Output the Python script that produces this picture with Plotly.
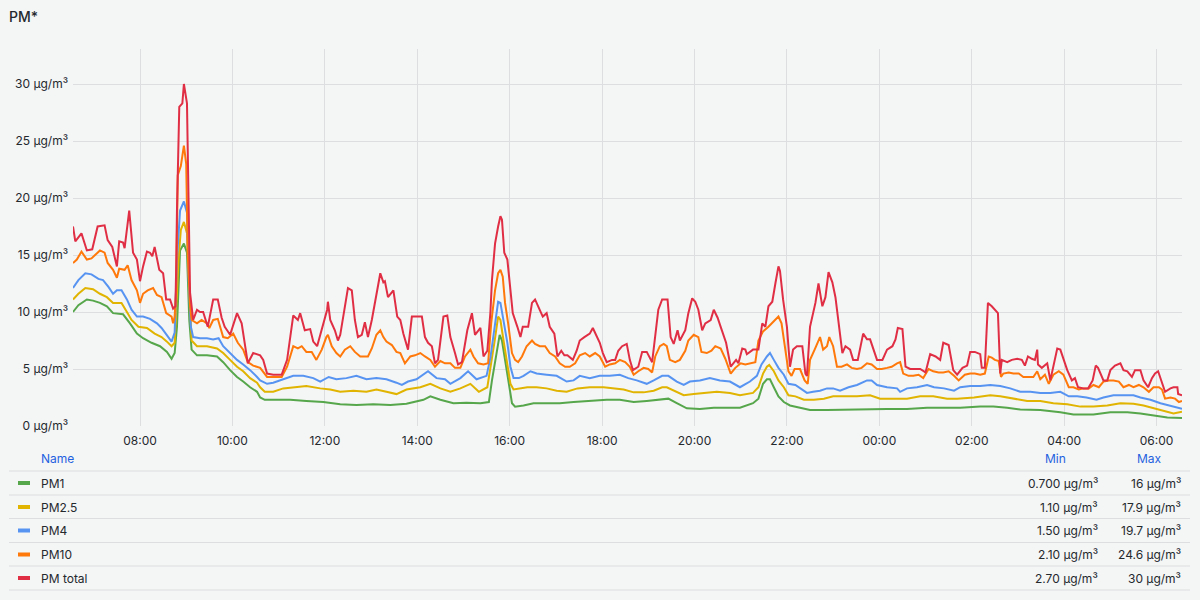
import plotly.graph_objects as go
import pandas as pd

# ---------------- data (times = minutes after 00:00 on the first day) ----------------
series_names = ["PM1", "PM2.5", "PM4", "PM10", "PM total"]
series_colors = ["#56A64B", "#E0B400", "#5794F2", "#FF780A", "#E02F44"]
legend_min = ["0.700 µg/m³", "1.10 µg/m³", "1.50 µg/m³", "2.10 µg/m³", "2.70 µg/m³"]
legend_max = ["16 µg/m³", "17.9 µg/m³", "19.7 µg/m³", "24.6 µg/m³", "30 µg/m³"]

pm_total_t = [
    393, 396, 404, 411, 418, 425, 434, 438, 444, 450,
    453, 458, 460, 466, 471, 476, 480, 484, 489, 493,
    496, 499, 505, 510, 514, 519, 523, 526, 527, 528,
    531, 535, 537, 541, 543, 545, 549, 554, 558, 562,
    568, 575, 581, 586, 590, 597, 606, 612, 620, 627,
    636, 640, 645, 653, 664, 671, 679, 685, 688, 694,
    701, 705, 710, 716, 723, 724, 727, 733, 737, 740,
    746, 750, 755, 759, 763, 768, 772, 776, 781, 788,
    792, 796, 798, 802, 809, 814, 818, 822, 828, 833,
    840, 846, 850, 854, 859, 863, 867, 874, 879, 883,
    889, 893, 898, 905, 911, 915, 922, 926, 931, 935,
    937, 941, 945, 948, 950, 953, 957, 961, 964, 970,
    974, 977, 984, 989, 993, 997, 1003, 1008, 1012, 1018,
    1022, 1027, 1031, 1035, 1042, 1047, 1051, 1057, 1064, 1068,
    1073, 1077, 1081, 1086, 1093, 1097, 1101, 1106, 1112, 1116,
    1120, 1127, 1132, 1138, 1145, 1149, 1153, 1158, 1165, 1169,
    1173, 1178, 1181, 1188, 1192, 1197, 1201, 1205, 1210, 1214,
    1221, 1225, 1230, 1234, 1241, 1247, 1254, 1257, 1262, 1266,
    1268, 1276, 1283, 1288, 1292, 1296, 1301, 1305, 1309, 1311,
    1315, 1320, 1324, 1328, 1333, 1340, 1344, 1346, 1350, 1357,
    1361, 1366, 1370, 1374, 1379, 1383, 1387, 1392, 1396, 1402,
    1406, 1412, 1419, 1424, 1428, 1432, 1437, 1444, 1450, 1457,
    1461, 1464, 1470, 1474, 1480, 1487, 1493, 1500, 1506, 1513,
    1519, 1523, 1530, 1536, 1541, 1548, 1554, 1558, 1564, 1571,
    1573, 1577, 1581, 1586, 1590, 1594, 1597, 1599, 1606, 1612,
    1619, 1625, 1629, 1633, 1638, 1642, 1645, 1646, 1651, 1658,
    1662, 1666, 1671, 1675, 1679, 1684, 1690, 1694, 1698, 1705,
    1711, 1717, 1721, 1724, 1731, 1736, 1740, 1746, 1753, 1757,
    1762, 1768, 1772, 1779, 1783, 1789, 1794, 1798, 1802, 1807,
    1811, 1818, 1822, 1827, 1828, 1833,
]
pm_total_v = [
    17.5, 16.2, 16.9, 15.4, 15.5, 17.5, 17.6, 16.3, 15.7, 14.0,
    16.2, 16.1, 15.6, 18.9, 15.2, 14.6, 12.7, 14.0, 15.3, 15.2,
    14.9, 15.7, 13.7, 13.4, 11.1, 11.1, 10.3, 10.5, 14.0, 18.9,
    28.0, 28.3, 30.0, 28.3, 20.0, 11.7, 9.3, 10.2, 10.0, 10.0,
    8.7, 11.1, 11.1, 9.5, 8.7, 8.0, 9.9, 9.0, 5.5, 6.4,
    6.2, 5.8, 4.6, 4.5, 4.5, 5.8, 9.7, 9.3, 9.9, 8.4,
    8.5, 7.4, 7.0, 8.5, 10.2, 10.9, 9.3, 8.4, 7.5, 8.0,
    10.5, 12.1, 11.9, 9.3, 7.8, 8.0, 9.1, 7.8, 9.3, 11.7,
    13.4, 12.6, 12.7, 11.3, 11.9, 9.6, 9.3, 8.1, 6.7, 9.6,
    9.6, 9.6, 7.8, 7.3, 7.0, 5.5, 5.8, 9.6, 9.7, 7.8,
    6.4, 5.4, 5.6, 8.4, 9.9, 8.0, 8.6, 6.1, 6.6, 10.0,
    12.8, 16.0, 17.5, 18.4, 18.1, 15.2, 14.6, 12.2, 9.9, 8.7,
    7.8, 8.7, 8.7, 10.8, 11.1, 10.5, 9.6, 9.9, 8.7, 8.1,
    6.1, 6.6, 6.2, 6.2, 5.8, 6.6, 7.5, 7.8, 8.1, 8.6,
    7.8, 7.3, 6.4, 5.6, 5.8, 5.8, 6.6, 7.0, 7.2, 5.8,
    4.9, 5.2, 6.5, 6.5, 5.6, 7.8, 10.2, 11.1, 11.1, 7.8,
    7.2, 8.4, 7.5, 8.4, 9.9, 11.2, 10.9, 10.2, 8.4, 9.0,
    9.3, 10.2, 9.5, 8.7, 7.3, 5.2, 5.8, 5.5, 6.8, 6.7,
    6.3, 6.7, 6.7, 9.0, 8.7, 10.5, 10.9, 12.5, 14.0, 13.6,
    11.1, 8.7, 5.2, 6.7, 7.0, 7.0, 4.6, 4.4, 8.7, 10.8,
    12.5, 10.5, 11.3, 13.5, 12.6, 11.3, 9.0, 6.4, 7.0, 6.7,
    5.8, 5.8, 8.1, 7.6, 7.6, 6.7, 5.8, 5.8, 6.7, 7.0,
    7.6, 8.6, 8.5, 5.2, 5.0, 5.0, 5.0, 4.7, 6.3, 6.1,
    5.8, 7.3, 7.1, 4.9, 4.5, 5.1, 5.3, 6.5, 6.5, 6.3,
    5.1, 5.1, 10.8, 10.5, 10.2, 9.9, 4.6, 5.8, 5.6, 5.8,
    5.9, 5.8, 5.3, 6.1, 5.9, 5.8, 6.7, 5.4, 5.1, 5.5,
    4.0, 5.3, 6.8, 6.7, 5.8, 4.9, 4.0, 4.2, 3.4, 3.3,
    3.3, 4.0, 5.3, 5.1, 4.0, 4.0, 4.9, 5.3, 5.5, 4.9,
    4.8, 4.3, 4.9, 4.9, 4.0, 3.4, 4.2, 4.6, 4.8, 3.9,
    3.0, 3.3, 3.4, 3.4, 2.8, 2.7,
]

pm10_t = [
    393, 398, 404, 411, 417, 424, 428, 434, 438, 445,
    450, 453, 460, 464, 469, 476, 480, 484, 490, 497,
    502, 508, 514, 521, 523, 525, 527, 529, 533, 537,
    540, 542, 545, 547, 554, 560, 567, 570, 575, 581,
    588, 594, 601, 607, 614, 620, 627, 636, 645, 653,
    664, 671, 679, 685, 690, 696, 703, 709, 716, 722,
    724, 729, 735, 740, 746, 753, 759, 766, 776, 781,
    787, 792, 796, 800, 807, 813, 818, 824, 831, 837,
    844, 850, 857, 863, 870, 876, 883, 889, 896, 902,
    909, 913, 919, 926, 932, 936, 941, 945, 948, 951,
    954, 958, 963, 967, 971, 976, 982, 989, 993, 999,
    1006, 1012, 1019, 1025, 1032, 1038, 1045, 1051, 1058, 1064,
    1071, 1077, 1084, 1090, 1097, 1103, 1110, 1116, 1121, 1127,
    1134, 1140, 1145, 1149, 1155, 1160, 1164, 1168, 1175, 1181,
    1188, 1192, 1199, 1205, 1209, 1216, 1222, 1227, 1234, 1240,
    1247, 1253, 1260, 1266, 1272, 1279, 1283, 1289, 1296, 1302,
    1309, 1313, 1317, 1322, 1326, 1330, 1337, 1343, 1347, 1350,
    1356, 1363, 1367, 1372, 1375, 1380, 1385, 1391, 1398, 1404,
    1411, 1417, 1424, 1430, 1437, 1443, 1450, 1456, 1463, 1467,
    1471, 1478, 1484, 1491, 1497, 1504, 1510, 1517, 1523, 1530,
    1537, 1543, 1551, 1558, 1564, 1571, 1577, 1582, 1586, 1590,
    1595, 1598, 1601, 1608, 1614, 1621, 1627, 1634, 1640, 1645,
    1649, 1655, 1660, 1666, 1673, 1679, 1686, 1692, 1699, 1705,
    1712, 1718, 1725, 1731, 1738, 1744, 1751, 1757, 1764, 1770,
    1777, 1783, 1790, 1796, 1803, 1807, 1811, 1818, 1824, 1829,
    1833,
]
pm10_v = [
    14.3, 14.6, 15.3, 14.6, 14.7, 15.2, 15.4, 15.2, 14.3, 13.7,
    13.0, 13.8, 13.7, 14.1, 12.8, 11.9, 10.8, 11.6, 11.9, 12.1,
    11.5, 11.3, 9.9, 9.6, 9.0, 9.6, 12.0, 22.0, 22.8, 24.6,
    23.0, 15.0, 10.5, 9.3, 9.0, 9.3, 9.0, 8.6, 9.3, 9.4,
    7.8, 7.7, 8.1, 7.3, 6.7, 5.6, 5.3, 5.1, 4.3, 4.3,
    4.3, 5.2, 7.0, 6.8, 7.0, 6.5, 6.5, 5.8, 6.7, 7.8,
    8.0, 7.0, 6.4, 6.1, 6.7, 7.0, 6.5, 6.1, 6.1, 6.8,
    8.0, 8.4, 7.8, 7.4, 7.1, 6.5, 6.4, 5.5, 6.1, 6.2,
    6.4, 6.1, 5.8, 5.2, 5.7, 5.5, 5.5, 5.1, 5.1, 6.1,
    6.7, 6.1, 5.5, 5.4, 5.5, 9.0, 11.9, 13.4, 13.7, 13.1,
    10.8, 9.0, 6.4, 5.8, 5.6, 6.1, 7.0, 7.5, 7.2, 7.0,
    7.0, 6.4, 6.1, 5.5, 5.2, 5.2, 5.5, 6.2, 6.4, 6.1,
    6.4, 6.1, 5.2, 5.4, 5.5, 5.8, 5.6, 5.2, 4.5, 4.8,
    5.1, 5.0, 4.7, 6.1, 7.0, 7.2, 7.0, 5.8, 5.6, 5.8,
    6.6, 7.5, 8.0, 7.8, 6.5, 6.4, 6.6, 7.0, 6.8, 5.9,
    4.6, 5.1, 5.5, 5.4, 5.5, 5.6, 7.5, 8.3, 8.7, 9.1,
    9.6, 9.0, 7.0, 4.8, 4.4, 5.0, 5.0, 4.0, 3.7, 5.8,
    6.7, 7.8, 6.7, 7.0, 7.8, 7.0, 5.2, 5.2, 5.4, 5.1,
    5.0, 5.1, 5.5, 5.4, 5.0, 5.0, 5.1, 5.2, 5.5, 5.6,
    4.6, 4.4, 4.4, 4.5, 4.2, 5.0, 4.8, 4.7, 4.7, 4.8,
    4.4, 4.0, 4.5, 4.6, 4.6, 4.5, 4.6, 6.1, 6.0, 5.8,
    5.7, 4.3, 4.6, 4.7, 4.6, 4.6, 4.3, 4.3, 4.3, 4.8,
    4.1, 4.5, 3.7, 4.5, 4.8, 4.5, 3.4, 3.4, 3.2, 3.3,
    3.3, 3.6, 3.4, 3.9, 4.0, 4.0, 3.9, 3.4, 3.6, 3.4,
    3.6, 3.4, 3.0, 3.4, 3.4, 3.2, 2.4, 2.5, 2.4, 2.1,
    2.2,
]

pm4_t = [
    393, 400, 409, 417, 426, 432, 439, 445, 450, 456,
    463, 469, 476, 484, 493, 502, 508, 515, 521, 525,
    528, 532, 537, 541, 543, 546, 549, 558, 567, 575,
    582, 588, 597, 606, 614, 623, 632, 636, 645, 653,
    666, 679, 692, 705, 714, 725, 735, 748, 761, 774,
    787, 800, 813, 820, 828, 839, 854, 865, 876, 883,
    896, 906, 917, 930, 935, 941, 945, 948, 952, 957,
    961, 965, 972, 978, 987, 995, 1008, 1021, 1034, 1043,
    1051, 1064, 1077, 1090, 1103, 1114, 1125, 1138, 1147, 1158,
    1166, 1177, 1186, 1194, 1207, 1220, 1233, 1246, 1259, 1272,
    1281, 1287, 1294, 1298, 1303, 1309, 1316, 1322, 1331, 1337,
    1346, 1354, 1363, 1372, 1380, 1389, 1400, 1411, 1424, 1430,
    1437, 1450, 1463, 1467, 1476, 1489, 1502, 1511, 1524, 1537,
    1545, 1558, 1571, 1584, 1597, 1610, 1623, 1636, 1649, 1662,
    1675, 1686, 1697, 1709, 1722, 1731, 1744, 1757, 1770, 1779,
    1792, 1805, 1818, 1827, 1833,
]
pm4_v = [
    12.1, 12.8, 13.4, 13.3, 12.9, 12.8, 12.2, 11.6, 11.9, 11.9,
    11.1, 10.2, 9.6, 9.6, 9.4, 9.0, 8.6, 8.0, 7.4, 8.2,
    14.6, 18.9, 19.7, 18.7, 13.1, 8.7, 7.8, 7.7, 7.7, 7.6,
    7.7, 7.0, 6.4, 5.8, 5.4, 4.9, 4.3, 4.0, 3.7, 3.8,
    4.1, 4.4, 4.4, 4.2, 3.9, 4.3, 4.1, 4.2, 4.4, 4.1,
    4.2, 4.1, 3.8, 3.6, 3.9, 4.1, 4.8, 4.2, 4.1, 3.7,
    4.2, 4.8, 4.1, 4.4, 6.0, 8.8, 10.9, 10.8, 9.3, 7.3,
    5.2, 4.2, 4.2, 4.4, 4.8, 4.6, 4.5, 4.4, 3.9, 4.0,
    4.4, 4.2, 4.4, 4.4, 4.5, 4.2, 4.0, 3.7, 4.0, 4.4,
    4.4, 3.9, 3.6, 3.9, 4.0, 4.2, 4.0, 3.9, 3.4, 3.9,
    4.4, 5.4, 6.1, 6.4, 5.8, 5.1, 4.5, 3.7, 3.6, 3.3,
    2.9, 3.0, 3.1, 3.3, 3.3, 3.1, 3.4, 3.6, 4.0, 4.0,
    3.6, 3.4, 3.3, 3.0, 3.3, 3.4, 3.6, 3.4, 3.3, 3.1,
    3.4, 3.5, 3.5, 3.6, 3.5, 3.3, 3.0, 3.0, 2.9, 2.9,
    3.0, 2.6, 2.6, 2.5, 2.3, 2.5, 2.7, 2.7, 2.7, 2.5,
    2.3, 2.0, 1.75, 1.6, 1.5,
]

pm25_t = [
    393, 400, 409, 419, 428, 437, 445, 456, 463, 469,
    478, 489, 499, 508, 515, 521, 525, 530, 533, 537,
    541, 544, 547, 554, 567, 580, 588, 597, 606, 614,
    623, 632, 636, 642, 653, 666, 679, 696, 714, 727,
    740, 757, 774, 787, 800, 813, 826, 844, 857, 870,
    883, 896, 909, 920, 931, 935, 941, 945, 948, 952,
    957, 961, 965, 974, 983, 995, 1008, 1021, 1034, 1048,
    1064, 1082, 1094, 1108, 1121, 1134, 1147, 1158, 1164, 1173,
    1186, 1199, 1212, 1229, 1246, 1259, 1276, 1283, 1289, 1294,
    1297, 1303, 1309, 1316, 1322, 1331, 1342, 1355, 1368, 1380,
    1398, 1411, 1428, 1441, 1458, 1476, 1493, 1510, 1528, 1541,
    1563, 1584, 1597, 1614, 1632, 1649, 1666, 1684, 1701, 1718,
    1736, 1753, 1770, 1783, 1796, 1809, 1822, 1833,
]
pm25_v = [
    11.1, 11.6, 12.1, 12.0, 11.6, 11.3, 10.8, 10.8, 10.0, 9.3,
    8.7, 8.6, 8.1, 7.8, 7.4, 7.0, 7.3, 14.6, 17.2, 17.9,
    16.9, 11.6, 7.5, 7.0, 7.0, 6.8, 6.4, 5.8, 5.2, 4.8,
    4.2, 3.8, 3.4, 3.0, 3.0, 3.3, 3.4, 3.5, 3.3, 3.2,
    3.0, 3.1, 3.0, 3.2, 3.0, 2.8, 3.2, 3.4, 3.7, 3.3,
    3.0, 3.3, 3.7, 3.0, 3.4, 5.0, 7.7, 9.6, 9.3, 7.5,
    5.5, 3.7, 3.2, 3.3, 3.4, 3.4, 3.3, 3.1, 3.0, 3.3,
    3.4, 3.4, 3.3, 3.2, 2.95, 2.95, 3.1, 3.4, 3.4, 3.1,
    2.7, 2.8, 2.9, 3.0, 2.9, 2.7, 2.9, 3.4, 4.6, 5.2,
    5.35, 4.8, 4.0, 3.4, 2.7, 2.6, 2.3, 2.3, 2.4, 2.6,
    2.6, 2.6, 2.7, 2.4, 2.4, 2.4, 2.6, 2.6, 2.4, 2.4,
    2.5, 2.7, 2.6, 2.4, 2.2, 2.2, 2.0, 1.9, 1.7, 1.7,
    1.8, 2.0, 1.95, 1.8, 1.55, 1.35, 1.1, 1.25,
]

pm1_t = [
    393, 400, 411, 419, 428, 437, 445, 458, 467, 476,
    484, 495, 506, 515, 521, 525, 528, 532, 537, 541,
    544, 547, 554, 567, 580, 588, 597, 606, 614, 623,
    632, 636, 642, 653, 675, 696, 718, 740, 761, 783,
    805, 826, 848, 857, 870, 887, 904, 922, 933, 937,
    943, 947, 950, 954, 959, 963, 967, 978, 991, 1008,
    1025, 1043, 1064, 1086, 1103, 1121, 1138, 1155, 1166, 1177,
    1190, 1207, 1225, 1259, 1276, 1283, 1289, 1294, 1298, 1303,
    1309, 1316, 1324, 1337, 1350, 1372, 1398, 1424, 1450, 1476,
    1502, 1528, 1545, 1571, 1588, 1606, 1623, 1649, 1675, 1692,
    1718, 1740, 1762, 1779, 1796, 1814, 1833,
]
pm1_v = [
    10.0, 10.6, 11.1, 11.0, 10.8, 10.5, 9.9, 9.8, 9.0, 8.1,
    7.7, 7.3, 7.0, 6.5, 5.9, 6.4, 8.7, 15.4, 16.0, 15.2,
    9.3, 6.7, 6.2, 6.2, 6.1, 5.6, 4.9, 4.3, 3.9, 3.4,
    3.0, 2.5, 2.3, 2.3, 2.3, 2.2, 2.1, 1.9, 1.85, 1.9,
    1.85, 1.95, 2.3, 2.6, 2.3, 2.0, 2.05, 2.0, 2.1, 4.0,
    6.4, 8.0, 7.5, 5.8, 3.7, 2.0, 1.7, 1.8, 2.0, 2.0,
    2.0, 2.1, 2.2, 2.3, 2.3, 2.1, 2.2, 2.3, 2.4, 2.0,
    1.55, 1.5, 1.6, 1.6, 2.0, 2.4, 3.7, 4.1, 4.1, 3.4,
    2.6, 2.1, 1.8, 1.6, 1.4, 1.4, 1.45, 1.5, 1.5, 1.5,
    1.6, 1.6, 1.6, 1.7, 1.7, 1.6, 1.45, 1.4, 1.2, 1.0,
    1.0, 1.2, 1.2, 1.1, 0.9, 0.75, 0.7,
]

y_ticks = [0, 5, 10, 15, 20, 25, 30]
unit = " µg/m³"

# ---------------- figure ----------------
BASE = pd.Timestamp("2024-01-15")


def to_time(mins):
    return [BASE + pd.Timedelta(minutes=m) for m in mins]


series_t = [pm1_t, pm25_t, pm4_t, pm10_t, pm_total_t]
series_v = [pm1_v, pm25_v, pm4_v, pm10_v, pm_total_v]

BG = "#f4f5f5"
TEXT = "#24292e"
GRID = "#dcdedf"
FONT = "Inter"

fig = go.Figure()
for name, t, v, c in zip(series_names, series_t, series_v, series_colors):
    fig.add_trace(go.Scatter(
        x=to_time(t), y=v, name=name, mode="lines",
        line=dict(color=c, width=2), hoverinfo="skip",
    ))

# plot area in pixels (for legend table placement)
L, R, T, B = 73, 1182, 49, 426
W, H = R - L, B - T


def px(x):
    return (x - L) / W


def py(y):
    return (B - y) / H


shapes = []
annotations = []
# table separators
for yy in [471, 495, 518.5, 542.5, 566, 590]:
    shapes.append(dict(type="line", xref="paper", yref="paper",
                       x0=px(9), x1=px(1190), y0=py(yy), y1=py(yy),
                       line=dict(color="#dcdedf", width=1)))
# headers
hdr_font = dict(family=FONT, size=12, color="#1f62e0")
annotations.append(dict(text="Name", xref="paper", yref="paper", x=px(39), y=py(458),
                        xanchor="left", yanchor="middle", showarrow=False, font=hdr_font))
annotations.append(dict(text="Min", xref="paper", yref="paper", x=px(1068), y=py(458),
                        xanchor="right", yanchor="middle", showarrow=False, font=hdr_font))
annotations.append(dict(text="Max", xref="paper", yref="paper", x=px(1164), y=py(458),
                        xanchor="right", yanchor="middle", showarrow=False, font=hdr_font))
row_y = [483, 507, 530.5, 554.5, 578]
row_font = dict(family=FONT, size=12, color=TEXT)
for i, name in enumerate(series_names):
    yy = row_y[i]
    shapes.append(dict(type="line", xref="paper", yref="paper",
                       x0=px(18), x1=px(30), y0=py(yy), y1=py(yy),
                       line=dict(color=series_colors[i], width=4)))
    annotations.append(dict(text=name, xref="paper", yref="paper", x=px(39), y=py(yy),
                            xanchor="left", yanchor="middle", showarrow=False, font=row_font))
    annotations.append(dict(text=legend_min[i], xref="paper", yref="paper", x=px(1100), y=py(yy),
                            xanchor="right", yanchor="middle", showarrow=False, font=row_font))
    annotations.append(dict(text=legend_max[i], xref="paper", yref="paper", x=px(1183), y=py(yy),
                            xanchor="right", yanchor="middle", showarrow=False, font=row_font))

fig.update_layout(
    width=1200, height=600,
    margin=dict(l=L, r=1200 - R, t=T, b=600 - B, pad=0),
    paper_bgcolor=BG, plot_bgcolor=BG,
    showlegend=False,
    font=dict(family=FONT, size=12, color=TEXT),
    title=dict(text="PM*", x=9 / 1200, xanchor="left", xref="container",
               y=1 - 17 / 600, yref="container", yanchor="middle",
               font=dict(family=FONT, size=14, color=TEXT, weight=500)),
    xaxis=dict(
        type="date",
        range=[BASE + pd.Timedelta(minutes=393), BASE + pd.Timedelta(minutes=1833)],
        tick0=BASE + pd.Timedelta(hours=8), dtick=2 * 3600 * 1000,
        tickformat="%H:%M", showgrid=True, gridcolor=GRID, gridwidth=1,
        zeroline=False, showline=False, ticks="", ticklabelstandoff=6,
        tickfont=dict(family=FONT, size=12, color=TEXT),
    ),
    yaxis=dict(
        range=[0, (B - T) / 11.4], tickvals=y_ticks,
        ticktext=[f"{v}{unit}" for v in y_ticks],
        showgrid=True, gridcolor=GRID, gridwidth=1,
        zeroline=False, showline=False, ticks="", ticklabelstandoff=4,
        tickfont=dict(family=FONT, size=12, color=TEXT),
    ),
    shapes=shapes, annotations=annotations,
)

fig.write_html("out.html")
